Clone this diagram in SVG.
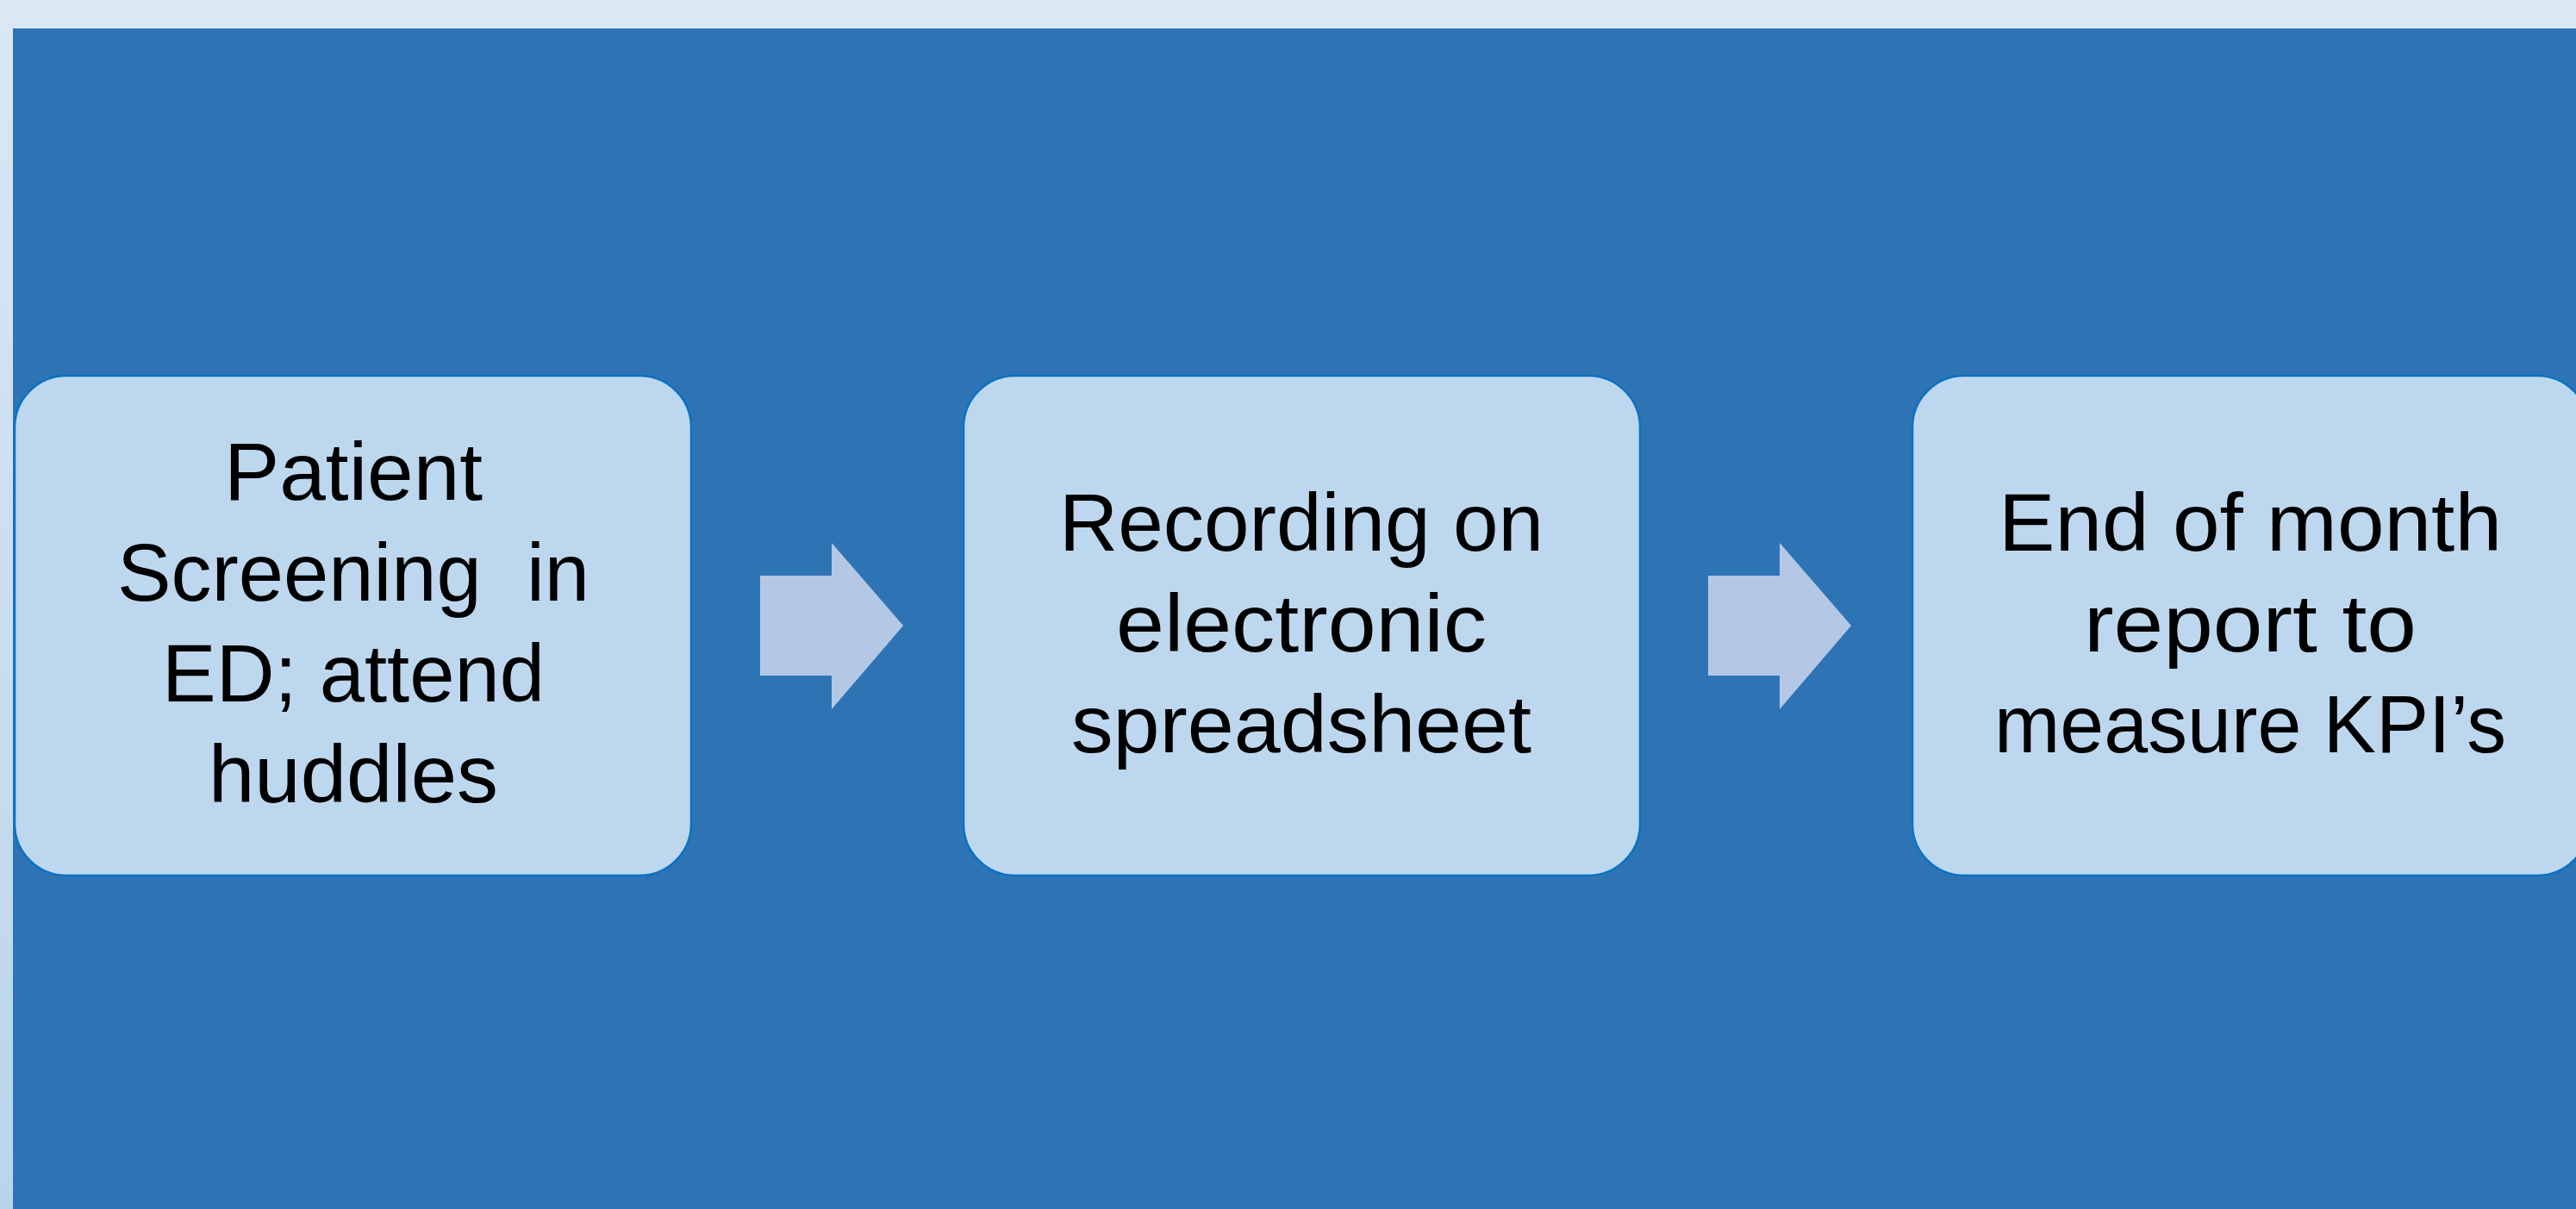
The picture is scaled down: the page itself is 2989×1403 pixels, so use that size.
<svg xmlns="http://www.w3.org/2000/svg" width="2989" height="1403" viewBox="0 0 2989 1403">
  <defs>
    <linearGradient id="edge" x1="0" y1="0" x2="0" y2="1">
      <stop offset="0" stop-color="#DAE8F4"/>
      <stop offset="1" stop-color="#BAD4EC"/>
    </linearGradient>
    <style>
      .box { fill: #BDD7EE; stroke: #0A72C2; stroke-width: 2.5; }
      .arrow { fill: #B4C8E6; }
      .lbl { font-family: "Liberation Sans", Arial, sans-serif; font-size: 95px; fill: #000000; text-anchor: middle; white-space: pre; }
    </style>
  </defs>
  <rect x="0" y="0" width="2989" height="1403" fill="url(#edge)"/>
  <rect x="0" y="0" width="2989" height="33" fill="#DAE8F4"/>
  <rect x="15" y="33" width="2974" height="1370" fill="#2E74B5"/>

  <g id="connectors">
    <polygon class="arrow" points="882,668 965,668 965,630 1048,726 965,823 965,784 882,784"/>
    <polygon class="arrow" points="1982,668 2065,668 2065,630 2148,726 2065,823 2065,784 1982,784"/>
  </g>

  <g id="node1">
    <rect class="box" x="17" y="436" width="785" height="580" rx="60" ry="60"/>
    <text class="lbl" x="410" y="580" textLength="300" lengthAdjust="spacingAndGlyphs">Patient</text>
    <text class="lbl" x="410" y="697" textLength="548" lengthAdjust="spacingAndGlyphs" xml:space="preserve">Screening  in</text>
    <text class="lbl" x="410" y="814" textLength="444" lengthAdjust="spacingAndGlyphs">ED; attend</text>
    <text class="lbl" x="410" y="931" textLength="336" lengthAdjust="spacingAndGlyphs">huddles</text>
  </g>

  <g id="node2">
    <rect class="box" x="1118" y="436" width="785" height="580" rx="60" ry="60"/>
    <text class="lbl" x="1510" y="639" textLength="562" lengthAdjust="spacingAndGlyphs">Recording on</text>
    <text class="lbl" x="1510" y="756" textLength="430" lengthAdjust="spacingAndGlyphs">electronic</text>
    <text class="lbl" x="1510" y="873" textLength="534" lengthAdjust="spacingAndGlyphs">spreadsheet</text>
  </g>

  <g id="node3">
    <rect class="box" x="2219" y="436" width="785" height="580" rx="60" ry="60"/>
    <text class="lbl" x="2611" y="639" textLength="584" lengthAdjust="spacingAndGlyphs">End of month</text>
    <text class="lbl" x="2611" y="756" textLength="386" lengthAdjust="spacingAndGlyphs">report to</text>
    <text class="lbl" x="2611" y="873" textLength="594" lengthAdjust="spacingAndGlyphs">measure KPI’s</text>
  </g>
</svg>
